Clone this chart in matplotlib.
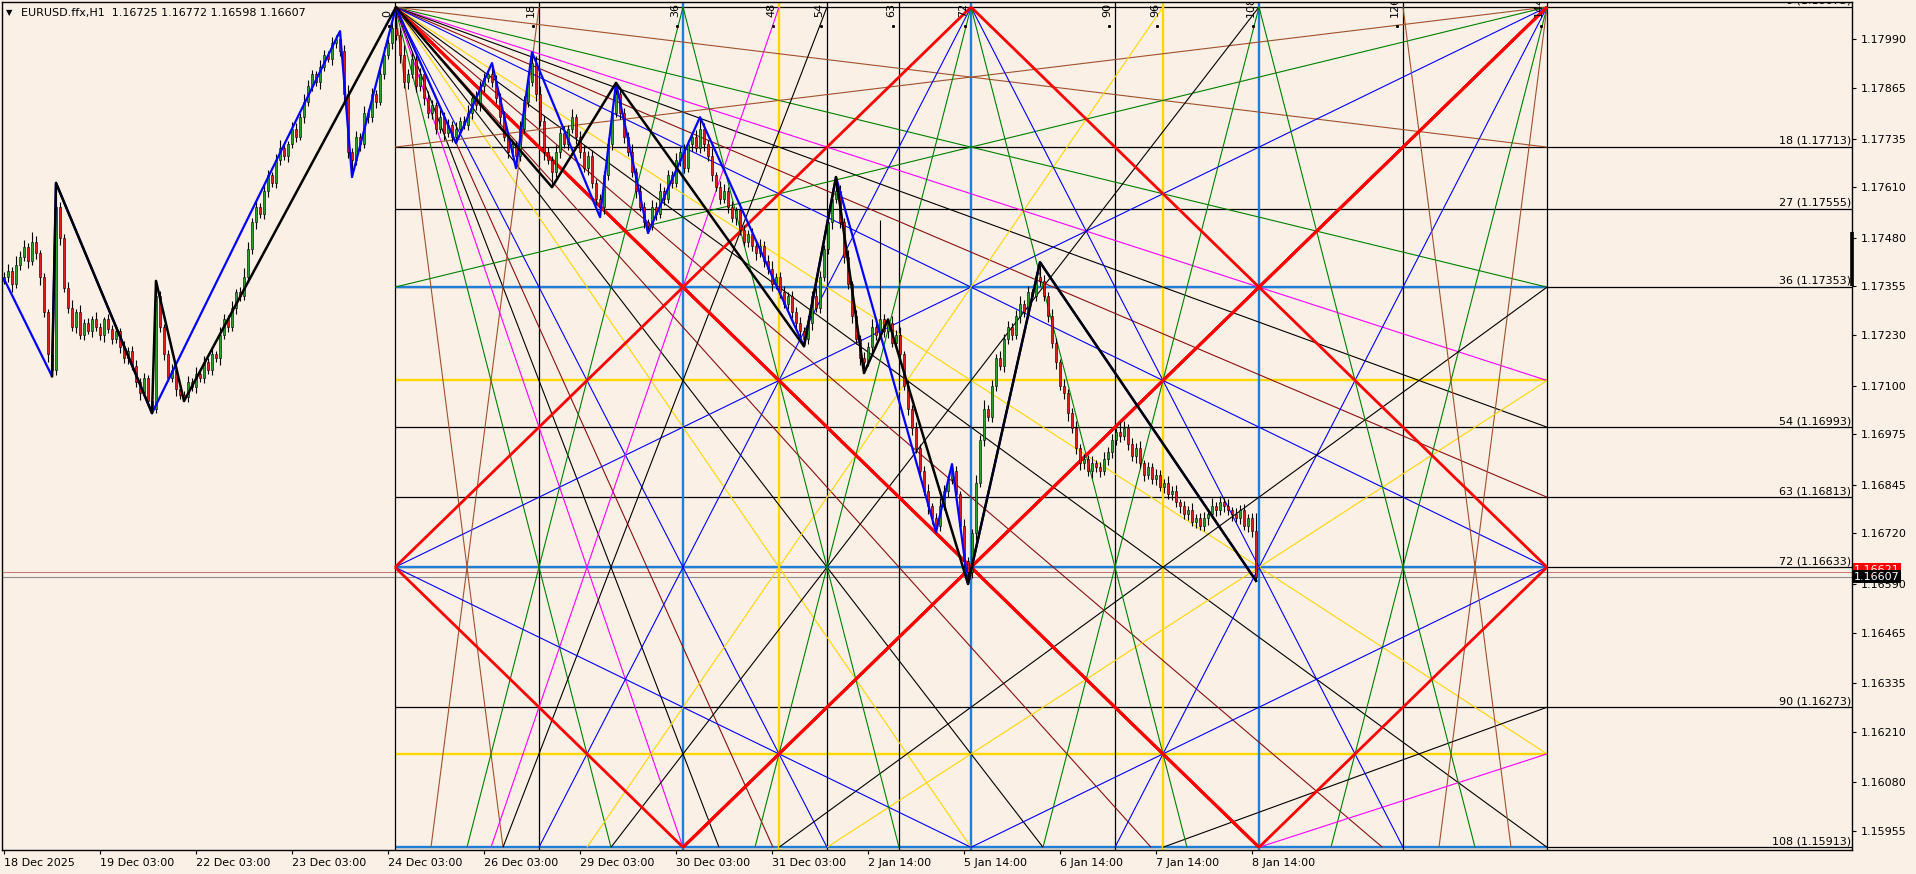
import matplotlib

matplotlib.use("Agg")
import matplotlib.pyplot as plt
import matplotlib.transforms as mtransforms

BG = "#FAF0E6"
BULL = "#2E9E2E"
BEAR = "#D81E1E"
LEVEL_BLUE = "#1E7FD8"
GOLD = "#FFD700"

# ---- price data: H1 closes, in points above 1.15000 ----
OPEN0_PTS = 2370
CLOSE_PTS = [
    2380, 2395, 2360, 2410, 2430, 2455, 2420, 2470, 2440, 2380,
    2290, 2180, 2140, 2560, 2480, 2350, 2300, 2250, 2290, 2230,
    2260, 2240, 2270, 2250, 2230, 2270, 2245, 2220, 2240, 2200,
    2170, 2190, 2150, 2110, 2080, 2120, 2060, 2040, 2330, 2250,
    2180, 2120, 2140, 2090, 2075, 2070, 2110, 2095, 2130, 2120,
    2160, 2140, 2180, 2170, 2230, 2270, 2250, 2300, 2340, 2330,
    2380, 2450, 2520, 2560, 2540, 2600, 2640, 2620, 2680, 2710,
    2690, 2720, 2760, 2740, 2790, 2830, 2870, 2900, 2880, 2920,
    2950, 2940, 2980, 2990, 2960, 2850, 2700, 2680, 2740, 2720,
    2800, 2790, 2850, 2830, 2900, 2950, 2980, 3020, 3000, 2950,
    2880, 2900, 2940, 2870, 2900, 2840, 2800, 2820, 2760, 2790,
    2750, 2770, 2740, 2760, 2780, 2770, 2800, 2840, 2820, 2870,
    2890, 2900, 2880, 2840, 2790, 2740, 2700, 2720, 2690, 2760,
    2830, 2880, 2930, 2850, 2780, 2700, 2680, 2650, 2700, 2750,
    2720, 2760, 2790, 2740, 2700, 2660, 2690, 2620, 2580, 2560,
    2640, 2720, 2800, 2850, 2800, 2740, 2700, 2650, 2600, 2560,
    2520, 2510, 2560, 2540, 2600, 2580, 2640, 2620, 2680, 2700,
    2660, 2720, 2740, 2710, 2760, 2720, 2690, 2640, 2610, 2580,
    2600, 2560, 2530, 2550, 2500, 2470, 2490, 2460, 2440, 2460,
    2420, 2400, 2360, 2380, 2340, 2310, 2330, 2290, 2260, 2240,
    2220, 2260, 2330, 2300, 2380, 2450, 2520, 2580, 2600, 2520,
    2430, 2360, 2280, 2220, 2170, 2160, 2200, 2250, 2230, 2270,
    2240, 2260, 2210, 2230, 2180, 2100, 2040, 1990, 1940, 1880,
    1830, 1790, 1760, 1740, 1790, 1830, 1860, 1880, 1820, 1740,
    1650, 1620, 1720, 1850, 1960, 2040, 2020, 2100, 2170, 2150,
    2220, 2250, 2230, 2280, 2310, 2290, 2340, 2330, 2380, 2370,
    2330, 2280, 2210, 2160, 2100, 2080, 2030, 1990, 1940, 1900,
    1910, 1880, 1900, 1890, 1880, 1910, 1930, 1960, 1980, 1970,
    1990, 1950, 1920, 1940, 1900, 1870, 1890, 1860, 1870, 1840,
    1850, 1820, 1830, 1800, 1790, 1770, 1780, 1750, 1760, 1740,
    1760, 1770, 1790, 1780, 1800, 1790, 1780, 1770, 1760, 1780,
    1740, 1760, 1725, 1607,
]
WICK_UP = [
    12, 18, 9, 22, 15, 20, 11, 25, 14, 8,
    10, 7, 6, 61, 12, 9, 15, 20, 8, 16,
    11, 14, 9, 18, 12, 7, 15, 10, 13, 9,
    14, 8, 11, 16, 9, 12, 7, 10, 39, 14,
    9, 12, 15, 8, 11, 10, 14, 9, 18, 12,
    16, 10, 13, 8, 20, 15, 11, 17, 9, 14,
    22, 18, 12, 15, 10, 19, 13, 8, 16, 21,
    12, 9, 18, 14, 11, 20, 15, 12, 9, 17,
    13, 10, 16, 12, 21, 15, 22, 10, 14, 9,
    18, 12, 16, 10, 14, 20, 12, 15, 53, 18,
    25, 14, 20, 11, 16, 9, 18, 13, 10, 22,
    12, 15, 9, 18, 11, 14, 20, 10, 16, 12,
    14, 9, 29, 18, 12, 15, 10, 13, 8, 20,
    15, 11, 27, 16, 20, 12, 14, 10, 18, 13,
    16, 11, 20, 9, 14, 18, 12, 15, 10, 13,
    12, 16, 10, 28, 18, 14, 11, 20, 9, 15,
    13, 8, 17, 12, 20, 10, 15, 11, 18, 14,
    22, 10, 13, 16, 30, 14, 12, 20, 9, 15,
    18, 11, 14, 10, 20, 13, 9, 16, 12, 18,
    11, 15, 20, 9, 13, 17, 10, 14, 12, 16,
    10, 18, 12, 20, 15, 11, 14, 9, 36, 16,
    12, 18, 10, 14, 9, 16, 12, 20, 11, 255,
    15, 10, 18, 12, 20, 9, 14, 11, 16, 10,
    13, 18, 9, 12, 20, 15, 11, 18, 14, 10,
    16, 9, 12, 20, 14, 22, 11, 15, 10, 18,
    12, 16, 10, 14, 20, 11, 15, 9, 13, 37,
    14, 10, 18, 12, 9, 16, 11, 13, 20, 10,
    15, 12, 18, 9, 14, 20, 11, 16, 12, 25,
    20, 10, 15, 12, 18, 9, 14, 11, 16, 13,
    10, 17, 12, 15, 9, 14, 11, 18, 10, 13,
    16, 12, 20, 10, 15, 11, 18, 9, 14, 12,
    16, 10, 13, 47,
]
WICK_DN = [
    10, 15, 20, 8, 12, 9, 18, 11, 14, 22,
    15, 20, 16, 12, 18, 10, 14, 9, 16, 11,
    13, 8, 15, 10, 12, 17, 9, 14, 11, 16,
    12, 15, 10, 14, 18, 9, 13, 11, 10, 12,
    15, 9, 12, 16, 10, 10, 13, 8, 15, 11,
    14, 10, 12, 9, 16, 11, 13, 10, 15, 12,
    9, 14, 11, 18, 10, 13, 16, 9, 12, 14,
    11, 15, 10, 13, 9, 16, 12, 14, 10, 18,
    12, 9, 15, 11, 14, 20, 16, 44, 12, 18,
    10, 14, 12, 16, 9, 13, 11, 15, 12, 20,
    14, 18, 10, 15, 12, 20, 11, 16, 13, 10,
    18, 12, 15, 17, 14, 10, 12, 16, 11, 13,
    15, 10, 12, 14, 18, 11, 16, 9, 31, 14,
    12, 15, 10, 18, 14, 20, 11, 40, 13, 16,
    10, 14, 12, 18, 15, 11, 20, 13, 16, 27,
    18, 12, 15, 10, 14, 16, 11, 13, 18, 12,
    15, 18, 11, 14, 10, 16, 12, 13, 9, 15,
    14, 11, 16, 10, 12, 18, 13, 15, 10, 14,
    12, 16, 10, 18, 14, 11, 15, 13, 16, 10,
    14, 12, 18, 11, 15, 10, 13, 16, 12, 14,
    19, 12, 16, 10, 14, 11, 13, 18, 12, 15,
    16, 12, 20, 14, 18, 28, 11, 15, 13, 10,
    14, 18, 12, 16, 20, 11, 15, 18, 14, 16,
    12, 20, 15, 17, 14, 10, 16, 12, 18, 14,
    20, 30, 14, 18, 12, 16, 10, 15, 13, 11,
    16, 12, 14, 10, 18, 13, 15, 11, 12, 14,
    12, 16, 14, 18, 11, 15, 20, 13, 16, 18,
    14, 12, 18, 11, 15, 10, 13, 16, 12, 14,
    10, 15, 13, 18, 12, 16, 11, 14, 15, 12,
    16, 11, 14, 12, 18, 13, 15, 10, 16, 12,
    14, 18, 11, 15, 12, 16, 13, 18, 11, 15,
    12, 16, 14, 9,
]

# zigzag pivots (bar index, points above 1.15000)
BLUE_ZZ_BARS = [0, 12, 13, 37, 84, 87, 98, 113, 122, 128, 132, 149, 153, 161,
                174, 200, 208, 233, 237, 241, 259, 313]
BLUE_ZZ_PTS = [2374, 2124, 2621, 2029, 3011, 2636, 3073, 2723, 2929, 2659, 2957,
               2533, 2878, 2492, 2790, 2201, 2636, 1723, 1898, 1590, 2417, 1598]
BLACK_ZZ_BARS = [12, 13, 37, 38, 45, 98, 137, 153, 200, 208, 215, 221, 241, 259, 313]
BLACK_ZZ_PTS = [2124, 2621, 2029, 2369, 2060, 3073, 2610, 2878, 2201, 2636, 2132,
                2270, 1590, 2417, 1598]

# ---- axes labels ----
DATE_TICK_BARS = [0, 24, 48, 72, 96, 120, 144, 168, 192, 216, 240, 264, 288, 312]
DATE_LABELS = ["18 Dec 2025", "19 Dec 03:00", "22 Dec 03:00", "23 Dec 03:00",
               "24 Dec 03:00", "26 Dec 03:00", "29 Dec 03:00", "30 Dec 03:00",
               "31 Dec 03:00", "2 Jan 14:00", "5 Jan 14:00", "6 Jan 14:00",
               "7 Jan 14:00", "8 Jan 14:00"]
PRICE_TICKS = [1.17990, 1.17865, 1.17735, 1.17610, 1.17480, 1.17355, 1.17230,
               1.17100, 1.16975, 1.16845, 1.16720, 1.16590, 1.16465, 1.16335,
               1.16210, 1.16080, 1.15955]
BID, ASK = 1.16607, 1.16621
TITLE = "EURUSD.ffx,H1  1.16725 1.16772 1.16598 1.16607"

# ---- Gann square (144 x 144 units, box clipped at 108 price units) ----
GANN_X0 = 97.75          # bar index of time unit 0
BARS_PER_UNIT = 2
GANN_P0 = 1.18073
PRICE_PER_UNIT = 0.0002
BOX_T, BOX_U, SQUARE = 144, 108, 144
TIME_LEVELS = [0, 18, 36, 48, 54, 63, 72, 90, 96, 108, 126, 144]
LEVEL_NAMES = [0, 18, 27, 36, 54, 63, 72, 90, 108]
LEVEL_PRICES = [1.18073, 1.17713, 1.17555, 1.17353, 1.16993, 1.16813, 1.16633,
                1.16273, 1.15913]
BLUE_UNITS = [36, 72, 108]
GOLD_UNITS = [48, 96]
FAN_COLORS = {18: "#A0522D", 36: "#008000", 48: "#FF00FF", 54: "#000000",
              63: "#8B1010", 72: "#0000FF", 96: GOLD, 108: "#000000",
              126: "#8B1010", 144: "#FF0000"}
# fans from the square's corners: (origin, levels)
CORNER_FANS = [
    ((0, 0), [18, 36, 48, 54, 63, 72, 96, 108, 126, 144]),
    ((144, 0), [18, 36, 72, 144]),
    ((0, 144), [18, 36, 48, 54, 72, 96, 108, 144]),
    ((144, 144), [18, 36, 72, 144]),
]
# steep fans from the mid points of the top / bottom edges
MID_FANS = [((72, 0), [36]), ((72, 144), [36])]
DIAMOND = [(0, 72), (72, 0), (144, 72), (72, 144), (0, 72)]

XMIN, XMAX = -0.5, 462
YMIN, YMAX = 1.15906, 1.18086


def gx(t):
    return GANN_X0 + BARS_PER_UNIT * t


def gy(u):
    return GANN_P0 - PRICE_PER_UNIT * u


def clip_u(a, b):
    # clip a segment in (t, u) units to the visible box 0 <= u <= BOX_U
    (t0, u0), (t1, u1) = a, b
    lo, hi = 0.0, 1.0
    if u1 != u0:
        k0 = (0 - u0) / (u1 - u0)
        k1 = (BOX_U - u0) / (u1 - u0)
        lo, hi = max(lo, min(k0, k1)), min(hi, max(k0, k1))
    elif not 0 <= u0 <= BOX_U:
        return None
    if hi - lo < 1e-9:
        return None
    return [(t0 + (t1 - t0) * k, u0 + (u1 - u0) * k) for k in (lo, hi)]


def seg(ax, a, b, color, lw, z):
    c = clip_u(a, b)
    if c is None:
        return
    ax.plot([gx(c[0][0]), gx(c[1][0])], [gy(c[0][1]), gy(c[1][1])],
            color=color, lw=lw, zorder=z, solid_capstyle="butt")


def fan_style(lev):
    return (2.0, 3) if lev == SQUARE else (0.8, 2)


W, H = 1916, 874
fig = plt.figure(figsize=(W / 100, H / 100), dpi=100, facecolor=BG)
ax = fig.add_axes([2 / W, 24 / H, 1850 / W, 848 / H], facecolor=BG)
ax.set_xlim(XMIN, XMAX)
ax.set_ylim(YMIN, YMAX)

# level lines
for name, p in zip(LEVEL_NAMES, LEVEL_PRICES):
    ax.hlines(p, gx(0), XMAX, color="black", lw=0.9, zorder=1)
    ax.text(XMAX - 0.3, p + 0.00003, f"{name} ({p:.5f})", ha="right", va="bottom",
            fontsize=8, color="black", zorder=6, clip_on=True)
for u in BLUE_UNITS:
    ax.hlines(gy(u), gx(0), gx(BOX_T), color=LEVEL_BLUE, lw=1.7, zorder=1.5)
for u in GOLD_UNITS:
    ax.hlines(gy(u), gx(0), gx(BOX_T), color=GOLD, lw=1.7, zorder=1.5)

label_y = YMAX - 15 * (YMAX - YMIN) / 848
dot_y = YMAX - 24 * (YMAX - YMIN) / 848
for t in TIME_LEVELS:
    x = gx(t)
    color, lw = "black", 0.9
    if t in BLUE_UNITS:
        color, lw = LEVEL_BLUE, 1.7
    elif t in GOLD_UNITS:
        color, lw = GOLD, 1.7
    ax.axvline(x, color=color, lw=lw, zorder=1.5)
    ax.text(x - 0.7, label_y, str(t), rotation=90, ha="right", va="bottom",
            fontsize=8, color="black", zorder=6, clip_on=True)
    ax.plot([x - 1.6], [dot_y], marker="s", ms=1.1, color="black", zorder=6)

# corner fans of the Gann square
for corner, levels in CORNER_FANS:
    cx, cu = corner
    for lev in levels:
        lw, z = fan_style(lev)
        dt = lev if cx == 0 else -lev
        du = lev if cu == 0 else -lev
        seg(ax, corner, (SQUARE - cx, cu + du), FAN_COLORS[lev], lw, z)
        seg(ax, corner, (cx + dt, SQUARE - cu), FAN_COLORS[lev], lw, z)

for origin, levels in MID_FANS:
    mx, mu = origin
    for lev in levels:
        lw, z = fan_style(lev)
        seg(ax, origin, (mx - lev, SQUARE - mu), FAN_COLORS[lev], lw, z)
        seg(ax, origin, (mx + lev, SQUARE - mu), FAN_COLORS[lev], lw, z)

for a, b in zip(DIAMOND[:-1], DIAMOND[1:]):
    seg(ax, a, b, "#FF0000", 2.0, 3)

# bid / ask lines
ax.axhline(ASK, color="#C06060", lw=0.6, zorder=1)
ax.axhline(BID, color="#8C8C8C", lw=0.8, zorder=1)

# candles
closes = [1.15 + v / 1e5 for v in CLOSE_PTS]
opens = [1.15 + OPEN0_PTS / 1e5] + closes[:-1]
n = min(len(closes), len(WICK_UP), len(WICK_DN))
for i in range(n):
    o, c = opens[i], closes[i]
    hi = max(o, c) + WICK_UP[i] / 1e5
    lo = min(o, c) - WICK_DN[i] / 1e5
    ax.vlines(i, lo, hi, color="black", lw=0.8, zorder=4)
    body = max(abs(c - o), 0.000015)
    ax.bar(i, body, bottom=min(o, c), width=0.72,
           color=BULL if c >= o else BEAR, edgecolor="black", lw=0.4, zorder=4.5)

# zigzags
ax.plot(BLUE_ZZ_BARS, [1.15 + v / 1e5 for v in BLUE_ZZ_PTS], color="#0000FF",
        lw=1.6, zorder=5)
ax.plot(BLACK_ZZ_BARS, [1.15 + v / 1e5 for v in BLACK_ZZ_PTS], color="black",
        lw=1.8, zorder=5.5)

# axes styling
for s in ax.spines.values():
    s.set_color("black")
    s.set_linewidth(1.0)
ax.yaxis.tick_right()
ax.set_yticks(PRICE_TICKS)
ax.set_yticklabels([f"{p:.5f}" for p in PRICE_TICKS])
ax.set_xticks(DATE_TICK_BARS)
ax.set_xticklabels(DATE_LABELS)
ax.tick_params(axis="y", length=3, width=0.8, pad=3, labelsize=8, colors="black")
ax.tick_params(axis="x", length=3, width=0.8, pad=3, labelsize=8, colors="black")
plt.setp(ax.get_xticklabels(), ha="left")

trans = mtransforms.blended_transform_factory(ax.transAxes, ax.transData)
ax.text(1.0012, 1.16627, f"{ASK:.5f}", transform=trans, ha="left", va="center",
        fontsize=8, color="white", zorder=10, clip_on=False,
        bbox=dict(boxstyle="square,pad=0.12", fc="#FF0000", ec="none"))
ax.text(1.0012, 1.16609, f"{BID:.5f}", transform=trans, ha="left", va="center",
        fontsize=8, color="white", zorder=11, clip_on=False,
        bbox=dict(boxstyle="square,pad=0.12", fc="black", ec="none"))
ax.plot([1.0, 1.0], [1.17495, 1.17356], transform=trans, color="black", lw=2.6,
        clip_on=False, zorder=10, solid_capstyle="butt")

fig.text(6 / W, 1 - 13 / H, "\u25bc", fontsize=6, va="center", ha="left")
fig.text(21 / W, 1 - 13 / H, TITLE, fontsize=8, va="center", ha="left")

fig.savefig("out.png", dpi=100, facecolor=BG)
